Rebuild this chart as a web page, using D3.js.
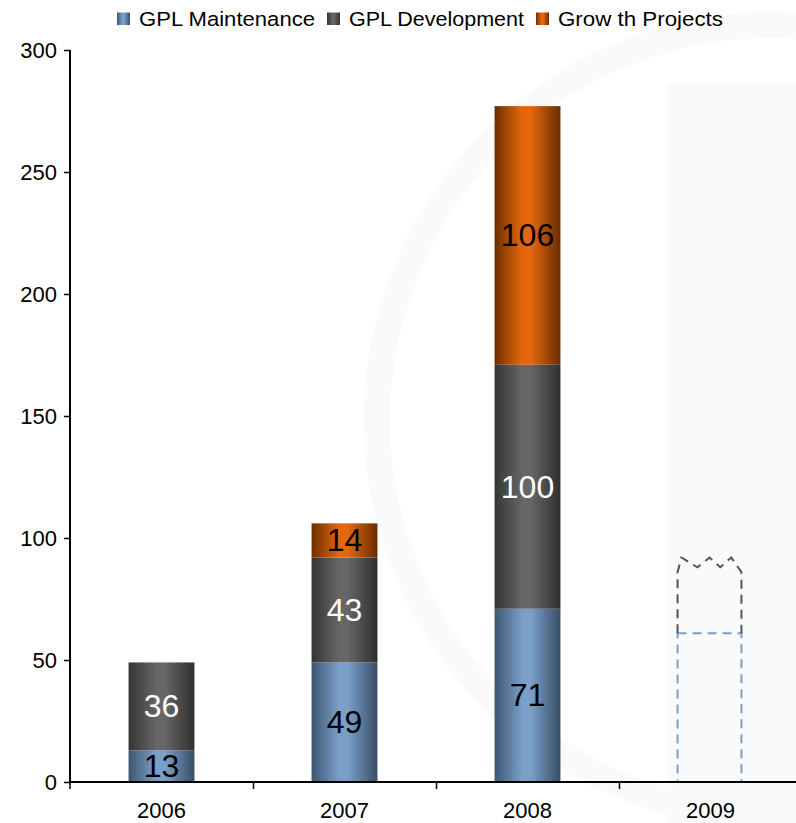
<!DOCTYPE html>
<html><head><meta charset="utf-8">
<script src="https://cdn.jsdelivr.net/npm/d3@7"></script>
<style>body{margin:0;background:#fff;} svg{display:block;font-family:"Liberation Sans",Arial,sans-serif;}</style>
</head><body>
<svg id="c" width="796" height="823"></svg>
<script>
const years = ["2006","2007","2008","2009"];
const seriesNames = ["GPL Maintenance","GPL Development","Grow th Projects"];
const maintenance = [13, 49, 71];
const development = [36, 43, 100];
const growth = [0, 14, 106];
const forecastMaintenance = 61;
const forecastDevTop = [86, 92, 88, 92, 88, 92, 86];
const forecastDevTopPos = [0, 0.06, 0.31, 0.5, 0.67, 0.84, 1];
const yTicks = [0, 50, 100, 150, 200, 250, 300];

const svg = d3.select("#c");
const defs = svg.append("defs");
const W = 796, H = 823;
const x = d3.scaleBand().domain(years).range([70, 802]).paddingInner(0.64).paddingOuter(0.32);
const y = d3.scaleLinear().domain([0, 300]).range([782, 50]);

// faint watermark
svg.append("rect").attr("x", 667).attr("y", 84).attr("width", W - 667).attr("height", H - 84).attr("fill", "#fafafa");
svg.append("circle").attr("cx", 772).attr("cy", 420).attr("r", 395).attr("fill", "none").attr("stroke", "#fafafa").attr("stroke-width", 26);

function grad(id, edgeL, mid, edgeR) {
  const g = defs.append("linearGradient").attr("id", id).attr("x1", "0").attr("x2", "1").attr("y1", "0").attr("y2", "0");
  g.append("stop").attr("offset", "0").attr("stop-color", edgeL);
  g.append("stop").attr("offset", "0.42").attr("stop-color", mid);
  g.append("stop").attr("offset", "0.55").attr("stop-color", mid);
  g.append("stop").attr("offset", "1").attr("stop-color", edgeR);
}
grad("gBlue", "#3d5671", "#7aa0c9", "#394d66");
grad("gGray", "#353535", "#666666", "#2f2f2f");
grad("gOrange", "#6c2f00", "#e4670d", "#6a2c00");
const fills = ["url(#gBlue)", "url(#gGray)", "url(#gOrange)"];
const labelColors = ["#000", "#fff", "#000"];

const data = years.slice(0, 3).map((yr, i) => ({ year: yr, maint: maintenance[i], dev: development[i], grow: growth[i] }));
const stack = d3.stack().keys(["maint", "dev", "grow"])(data);

const bw = x.bandwidth();
stack.forEach((layer, li) => {
  layer.forEach(d => {
    const v = d[1] - d[0];
    if (v <= 0) return;
    const yr = d.data.year;
    svg.append("rect").attr("x", x(yr)).attr("y", y(d[1])).attr("width", bw).attr("height", y(d[0]) - y(d[1])).attr("fill", fills[li]);
    svg.append("text").attr("x", x(yr) + bw / 2).attr("y", (y(d[0]) + y(d[1])) / 2)
      .attr("text-anchor", "middle").attr("dominant-baseline", "central")
      .attr("font-size", 32).attr("fill", labelColors[li]).text(v);
  });
});

// 2009 forecast dashed outline
const x9 = x("2009"), w9 = bw - 2;
svg.append("rect").attr("x", x9).attr("y", y(forecastMaintenance)).attr("width", w9).attr("height", y(0) - y(forecastMaintenance))
  .attr("fill", "none").attr("stroke", "#7aa0c9").attr("stroke-width", 2).attr("stroke-dasharray", "9,6");
const zig = d3.line().curve(d3.curveLinear);
const pts = [[x9, y(forecastMaintenance)]];
forecastDevTop.forEach((v, i) => pts.push([x9 + w9 * forecastDevTopPos[i], y(v)]));
pts.push([x9 + w9, y(forecastMaintenance)]);
svg.append("path").attr("d", zig(pts)).attr("fill", "none").attr("stroke", "#555").attr("stroke-width", 2).attr("stroke-dasharray", "9,6");

// axes
const yAxis = svg.append("g").attr("transform", "translate(70,0)")
  .call(d3.axisLeft(y).tickValues(yTicks).tickSize(6).tickPadding(7));
yAxis.select(".domain").attr("stroke", "#000").attr("stroke-width", 2).attr("d", "M0,50V782");
yAxis.selectAll(".tick line").attr("stroke", "#000").attr("stroke-width", 1.5);
yAxis.selectAll("text").attr("font-size", 22).attr("fill", "#000").attr("font-family", "Liberation Sans, Arial, sans-serif");

const xAxis = svg.append("g").attr("transform", "translate(0,782)")
  .call(d3.axisBottom(x).tickSize(0).tickPadding(20));
xAxis.select(".domain").attr("stroke", "#000").attr("stroke-width", 2).attr("d", "M70,0H796");
xAxis.selectAll("text").attr("font-size", 22).attr("fill", "#000").attr("font-family", "Liberation Sans, Arial, sans-serif");
const sepTicks = [70].concat(years.map(yr => x(yr) + bw + x.step() * 0.32 + 0.5));
svg.selectAll(".sep").data(sepTicks.filter(v => v < W)).enter().append("line")
  .attr("x1", d => d).attr("x2", d => d).attr("y1", 782).attr("y2", 789).attr("stroke", "#000").attr("stroke-width", 1.5);

// legend
const lg = svg.append("g");
const legendWidths = [176, 175, 165];
let lx = 117;
seriesNames.forEach((n, i) => {
  lg.append("rect").attr("x", lx).attr("y", 12.5).attr("width", 13).attr("height", 12.5).attr("fill", fills[i]);
  lg.append("text").attr("x", lx + 22).attr("y", 26).attr("font-size", 20.5).attr("fill", "#000")
    .attr("textLength", legendWidths[i]).attr("lengthAdjust", "spacingAndGlyphs").text(n);
  lx = lx + 22 + legendWidths[i] + 12;
});
</script>
</body></html>
